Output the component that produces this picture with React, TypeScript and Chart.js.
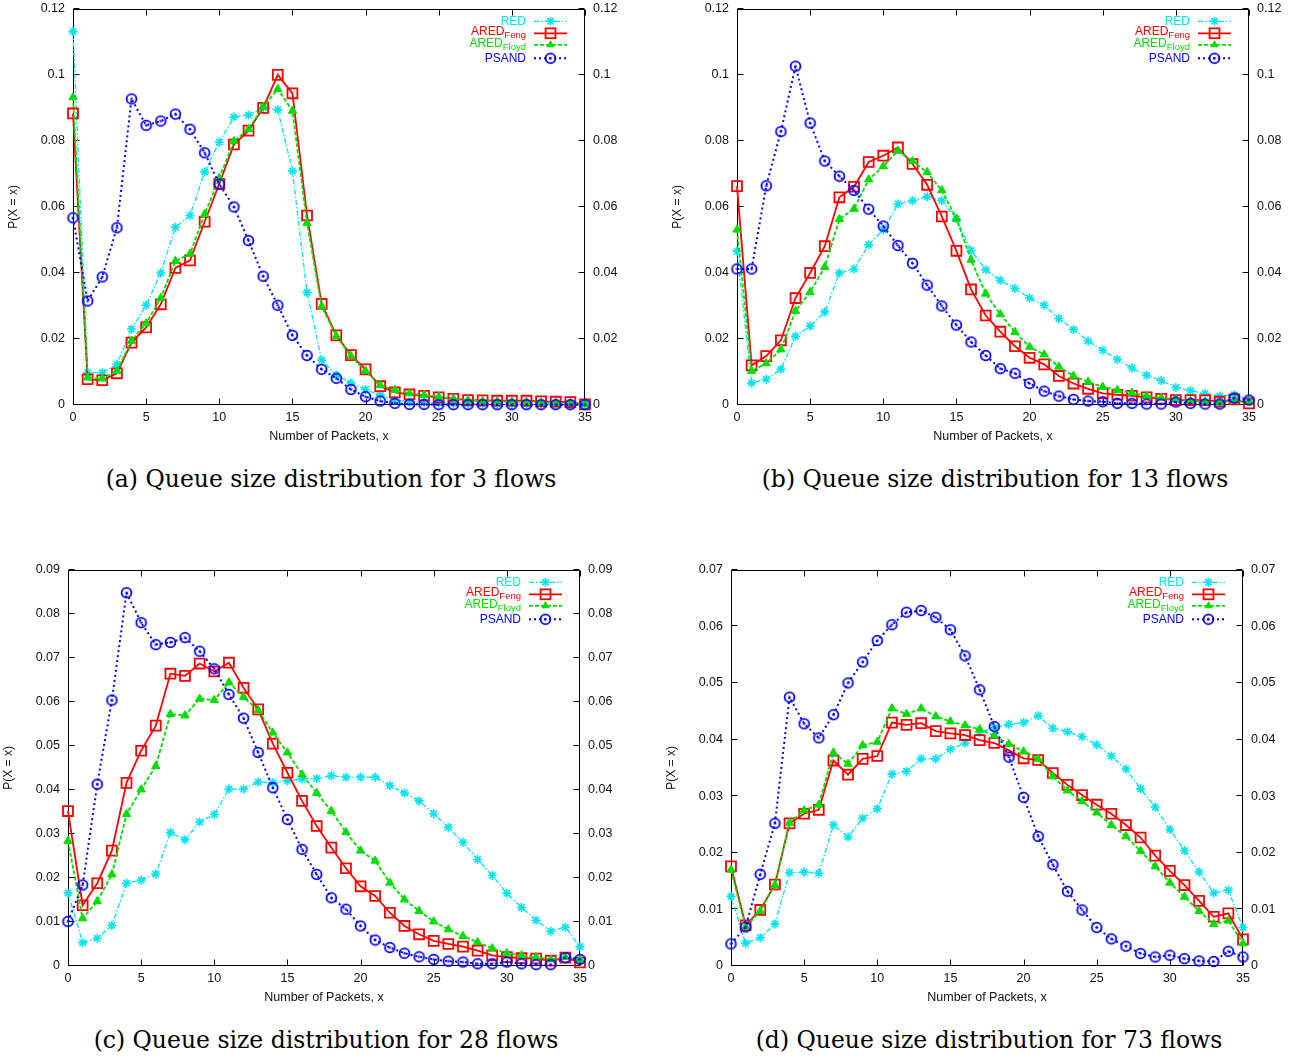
import React, { useEffect, useRef } from "react";
import { Chart, registerables } from "chart.js";

Chart.register(...registerables);

// ---------- data ----------
const packets = [0, 1, 2, 3, 4, 5, 6, 7, 8, 9, 10, 11, 12, 13, 14, 15, 16, 17, 18, 19, 20, 21, 22, 23, 24, 25, 26, 27, 28, 29, 30, 31, 32, 33, 34, 35];
const xTickValues = [0, 5, 10, 15, 20, 25, 30, 35];
const yTicks3 = [0, 0.02, 0.04, 0.06, 0.08, 0.1, 0.12];
const yTicks13 = [0, 0.02, 0.04, 0.06, 0.08, 0.1, 0.12];
const yTicks28 = [0, 0.01, 0.02, 0.03, 0.04, 0.05, 0.06, 0.07, 0.08, 0.09];
const yTicks73 = [0, 0.01, 0.02, 0.03, 0.04, 0.05, 0.06, 0.07];

const seriesLabels = ["RED", "ARED", "ARED", "PSAND"];
const seriesSubscripts = ["", "Feng", "Floyd", ""];
const xTitle = "Number of Packets, x";
const yTitle = "P(X = x)";
const captions = [
  "(a) Queue size distribution for 3 flows",
  "(b) Queue size distribution for 13 flows",
  "(c) Queue size distribution for 28 flows",
  "(d) Queue size distribution for 73 flows",
];

// 3 flows
const red3 = [0.1131, 0.0098, 0.0098, 0.0123, 0.023, 0.0302, 0.04, 0.0538, 0.0574, 0.0706, 0.0796, 0.0872, 0.0878, 0.0901, 0.0894, 0.0709, 0.0341, 0.0136, 0.0091, 0.0067, 0.0047, 0.003, 0.0015, 0.001, 0.0008, 0.0006, 0.0005, 0.0004, 0.0003, 0.0003, 0.0002, 0.0002, 0.0002, 0.0001, 0.0001, 0.0001];
const aredFeng3 = [0.0883, 0.0078, 0.0075, 0.0096, 0.0189, 0.0235, 0.0305, 0.0415, 0.0438, 0.0555, 0.067, 0.0789, 0.0831, 0.09, 0.1, 0.0944, 0.0574, 0.0306, 0.0211, 0.0151, 0.0108, 0.0057, 0.0038, 0.0032, 0.0028, 0.0023, 0.0019, 0.0015, 0.0014, 0.0013, 0.0013, 0.0013, 0.0011, 0.001, 0.0009, 0.0002];
const aredFloyd3 = [0.0932, 0.0083, 0.008, 0.0103, 0.0194, 0.0247, 0.0324, 0.0436, 0.0458, 0.0578, 0.0687, 0.0799, 0.0835, 0.0903, 0.0957, 0.0891, 0.0551, 0.0299, 0.0209, 0.0148, 0.0103, 0.006, 0.0045, 0.0035, 0.003, 0.0025, 0.0019, 0.0015, 0.0012, 0.0011, 0.001, 0.001, 0.0008, 0.0007, 0.0006, 0.0002];
const psand3 = [0.0567, 0.0315, 0.0388, 0.0537, 0.0927, 0.0847, 0.086, 0.0881, 0.0835, 0.0764, 0.0669, 0.06, 0.0498, 0.039, 0.0302, 0.0211, 0.015, 0.0108, 0.0081, 0.0047, 0.0025, 0.0012, 0.0005, 0.0002, 0.0002, 0.0001, 0.0001, 0.0001, 0.0001, 0.0001, 0.0001, 0.0001, 0.0001, 0.0001, 0.0001, 0.0001];

// 13 flows
const red13 = [0.0466, 0.0067, 0.0078, 0.0108, 0.0208, 0.0239, 0.0282, 0.04, 0.0412, 0.0485, 0.0531, 0.0609, 0.0619, 0.0631, 0.0619, 0.0564, 0.0468, 0.041, 0.0378, 0.0353, 0.0324, 0.0302, 0.0262, 0.0229, 0.0194, 0.0166, 0.0138, 0.0112, 0.009, 0.0074, 0.0053, 0.0043, 0.0035, 0.0027, 0.0031, 0.0017];
const aredFeng13 = [0.0663, 0.012, 0.0148, 0.0196, 0.0324, 0.04, 0.0481, 0.0629, 0.0661, 0.0736, 0.0755, 0.078, 0.073, 0.0667, 0.0571, 0.0467, 0.035, 0.0271, 0.0222, 0.0178, 0.0143, 0.0123, 0.0088, 0.0065, 0.0049, 0.0035, 0.0031, 0.0028, 0.0023, 0.0019, 0.0015, 0.0015, 0.0015, 0.001, 0.0017, 0.0005];
const aredFloyd13 = [0.0531, 0.0103, 0.0126, 0.0168, 0.0285, 0.0342, 0.0418, 0.0563, 0.0594, 0.0683, 0.0723, 0.077, 0.0738, 0.0705, 0.065, 0.0564, 0.044, 0.0337, 0.0275, 0.0221, 0.0176, 0.0153, 0.0116, 0.0088, 0.007, 0.0055, 0.0045, 0.0037, 0.0027, 0.0022, 0.0017, 0.0012, 0.001, 0.0007, 0.0015, 0.001];
const psand13 = [0.0412, 0.0412, 0.0664, 0.0828, 0.1026, 0.0854, 0.0739, 0.0693, 0.065, 0.0593, 0.0542, 0.0483, 0.0429, 0.0363, 0.03, 0.0242, 0.0191, 0.015, 0.011, 0.0096, 0.0065, 0.0042, 0.0027, 0.0017, 0.0012, 0.001, 0.0005, 0.0005, 0.0003, 0.0003, 0.0009, 0.0005, 0.0003, 0.0003, 0.0021, 0.0015];

// 28 flows
const red28 = [0.0166, 0.0053, 0.0063, 0.0092, 0.0188, 0.0195, 0.0209, 0.0303, 0.0287, 0.0327, 0.0344, 0.0402, 0.0402, 0.0418, 0.0416, 0.042, 0.0425, 0.0426, 0.0432, 0.0429, 0.0429, 0.0429, 0.041, 0.0393, 0.0375, 0.0346, 0.0315, 0.0281, 0.0242, 0.0206, 0.0165, 0.0133, 0.0104, 0.0079, 0.0088, 0.0044];
const aredFeng28 = [0.0352, 0.0138, 0.0188, 0.0262, 0.0416, 0.0489, 0.0546, 0.0664, 0.0659, 0.0687, 0.0669, 0.0689, 0.0632, 0.0583, 0.0505, 0.0439, 0.0375, 0.0318, 0.0269, 0.0222, 0.0181, 0.0159, 0.0121, 0.0091, 0.0072, 0.0057, 0.005, 0.0044, 0.0035, 0.0024, 0.002, 0.0018, 0.0017, 0.0012, 0.0019, 0.0008];
const aredFloyd28 = [0.0284, 0.0108, 0.0147, 0.0208, 0.0345, 0.0401, 0.0454, 0.0572, 0.0569, 0.0607, 0.0604, 0.0644, 0.0611, 0.0581, 0.053, 0.0485, 0.0435, 0.0393, 0.0352, 0.0304, 0.0262, 0.0239, 0.0189, 0.0151, 0.0125, 0.0101, 0.0083, 0.0068, 0.0054, 0.004, 0.0029, 0.0024, 0.002, 0.0015, 0.002, 0.0014];
const psand28 = [0.0101, 0.0184, 0.0413, 0.0604, 0.0848, 0.078, 0.073, 0.0735, 0.0746, 0.0715, 0.0675, 0.0617, 0.0563, 0.0485, 0.0405, 0.0333, 0.0265, 0.0208, 0.0155, 0.0129, 0.0091, 0.0059, 0.0042, 0.0029, 0.0021, 0.0015, 0.0011, 0.0009, 0.0005, 0.0005, 0.0009, 0.0005, 0.0003, 0.0003, 0.0019, 0.0015];

// 73 flows
const red73 = [0.0123, 0.004, 0.005, 0.0074, 0.0165, 0.0166, 0.0164, 0.0249, 0.0228, 0.0261, 0.0278, 0.0339, 0.0344, 0.0366, 0.0366, 0.0383, 0.0394, 0.0413, 0.0421, 0.0427, 0.043, 0.0442, 0.042, 0.0414, 0.0405, 0.0391, 0.0371, 0.0348, 0.0313, 0.0281, 0.0241, 0.0204, 0.0166, 0.0129, 0.0134, 0.0068];
const aredFeng73 = [0.0176, 0.0072, 0.0099, 0.0144, 0.0252, 0.0269, 0.0276, 0.0363, 0.0338, 0.0366, 0.0371, 0.043, 0.0426, 0.0429, 0.0415, 0.0411, 0.0408, 0.0399, 0.0394, 0.0381, 0.0367, 0.0364, 0.0341, 0.032, 0.0302, 0.0285, 0.0269, 0.0249, 0.0227, 0.0195, 0.0168, 0.0143, 0.0115, 0.0087, 0.0093, 0.0047];
const aredFloyd73 = [0.017, 0.0069, 0.0097, 0.0143, 0.0253, 0.0275, 0.0285, 0.0377, 0.0357, 0.039, 0.0396, 0.0455, 0.0445, 0.0455, 0.0441, 0.0432, 0.0425, 0.0418, 0.0407, 0.0392, 0.0379, 0.0366, 0.0335, 0.031, 0.0291, 0.0271, 0.0249, 0.0229, 0.0203, 0.0176, 0.0147, 0.0122, 0.0097, 0.0074, 0.008, 0.004];
const psand73 = [0.0039, 0.0069, 0.0162, 0.0252, 0.0475, 0.0428, 0.0403, 0.0444, 0.05, 0.0537, 0.0575, 0.0603, 0.0625, 0.0628, 0.0616, 0.0594, 0.0548, 0.0488, 0.0423, 0.0369, 0.0298, 0.0229, 0.0179, 0.0132, 0.0099, 0.0068, 0.0048, 0.0035, 0.0022, 0.0016, 0.0019, 0.0013, 0.0009, 0.0008, 0.0026, 0.0016];

// ---------- styles / layout ----------
const SANS = '"Liberation Sans", Arial, Helvetica, sans-serif';
const SERIF = '"DejaVu Serif", serif';
const TEXT = "#111";

type SeriesStyle = { color: string; dash: number[]; width: number; point: string; radius: number; pointWidth: number; fill: boolean };
const seriesStyles: SeriesStyle[] = [
  { color: "#00e4ef", dash: [5, 2, 1.5, 2], width: 1.3, point: "star", radius: 4.5, pointWidth: 1.6, fill: false },
  { color: "#ff0000", dash: [], width: 1.8, point: "rect", radius: 7, pointWidth: 1.8, fill: false },
  { color: "#00dd00", dash: [4, 2], width: 1.8, point: "triangle", radius: 4.8, pointWidth: 1, fill: true },
  { color: "#0000ff", dash: [2, 3], width: 2, point: "circledot", radius: 5, pointWidth: 1.8, fill: false },
];

const CANVAS_W = 654;
const CANVAS_H = 450;
const AXIS_LEFT_W = 73;
const AXIS_RIGHT_W = 69;
const AXIS_BOTTOM_H = 45;
const PAD_TOP = 7.5;

const panels = [
  { left: 0, top: 0, yTicks: yTicks3, series: [red3, aredFeng3, aredFloyd3, psand3], caption: captions[0] },
  { left: 664, top: 0, yTicks: yTicks13, series: [red13, aredFeng13, aredFloyd13, psand13], caption: captions[1] },
  { left: -5, top: 561, yTicks: yTicks28, series: [red28, aredFeng28, aredFloyd28, psand28], caption: captions[2] },
  { left: 658, top: 561, yTicks: yTicks73, series: [red73, aredFeng73, aredFloyd73, psand73], caption: captions[3] },
];

function makeCircleDot(color: string) {
  const c = document.createElement("canvas");
  c.width = 15;
  c.height = 15;
  const g = c.getContext("2d")!;
  g.strokeStyle = color;
  g.lineWidth = 1.8;
  g.beginPath();
  g.arc(7.5, 7.5, 4.9, 0, Math.PI * 2);
  g.stroke();
  g.fillStyle = color;
  g.beginPath();
  g.arc(7.5, 7.5, 1.2, 0, Math.PI * 2);
  g.fill();
  return c;
}

function drawMarker(ctx: CanvasRenderingContext2D, st: SeriesStyle, x: number, y: number, img: HTMLCanvasElement) {
  ctx.save();
  ctx.setLineDash([]);
  ctx.strokeStyle = st.color;
  ctx.fillStyle = st.color;
  ctx.lineWidth = st.pointWidth;
  const r = st.radius;
  if (st.point === "star") {
    ctx.beginPath();
    ctx.moveTo(x - r, y); ctx.lineTo(x + r, y);
    ctx.moveTo(x, y - r); ctx.lineTo(x, y + r);
    const d = r * Math.SQRT1_2;
    ctx.moveTo(x - d, y - d); ctx.lineTo(x + d, y + d);
    ctx.moveTo(x - d, y + d); ctx.lineTo(x + d, y - d);
    ctx.stroke();
  } else if (st.point === "rect") {
    const s = r * Math.SQRT1_2;
    ctx.strokeRect(x - s, y - s, 2 * s, 2 * s);
  } else if (st.point === "triangle") {
    ctx.beginPath();
    for (let k = 0; k < 3; k++) {
      const a = (k * 2 * Math.PI) / 3;
      const px = x + Math.sin(a) * r;
      const py = y - Math.cos(a) * r;
      if (k === 0) ctx.moveTo(px, py); else ctx.lineTo(px, py);
    }
    ctx.closePath();
    ctx.fill();
  } else {
    ctx.drawImage(img, x - img.width / 2, y - img.height / 2);
  }
  ctx.restore();
}

function Panel({ left, top, yTicks, series, caption }: any) {
  const ref = useRef<HTMLCanvasElement>(null);
  useEffect(() => {
    const canvas = ref.current!;
    const dotImg = makeCircleDot(seriesStyles[3].color);
    const fmt = (v: any) => String(parseFloat(Number(v).toFixed(4)));
    const yMax = yTicks[yTicks.length - 1];

    const framePlugin = {
      id: "frame",
      beforeDatasetsDraw(chart: any) {
        const { ctx, chartArea: a, scales } = chart;
        const L = Math.round(a.left) + 0.5;
        const R = Math.round(a.right) - 0.5;
        const T = Math.round(a.top) + 0.5;
        const B = Math.round(a.bottom) - 0.5;
        ctx.save();
        ctx.strokeStyle = "#000";
        ctx.lineWidth = 1;
        ctx.beginPath();
        ctx.rect(L, T, R - L, B - T);
        const tl = 6;
        xTickValues.forEach((v) => {
          const px = Math.round(scales.x.getPixelForValue(v)) + 0.5;
          ctx.moveTo(px, B); ctx.lineTo(px, B - tl);
          ctx.moveTo(px, T); ctx.lineTo(px, T + tl);
        });
        yTicks.forEach((v: number) => {
          const py = Math.round(scales.y.getPixelForValue(v)) - 0.5;
          ctx.moveTo(L, py); ctx.lineTo(L + tl, py);
          ctx.moveTo(R, py); ctx.lineTo(R - tl, py);
        });
        ctx.stroke();
        ctx.restore();
      },
    };

    const legendPlugin = {
      id: "seriesLegend",
      afterDatasetsDraw(chart: any) {
        const { ctx, chartArea: a } = chart;
        const rowOffsets = [12.5, 24.5, 36, 49.5];
        const textRight = a.right - 59;
        const x0 = a.right - 51;
        const x1 = a.right - 18;
        seriesLabels.forEach((label, i) => {
          const st = seriesStyles[i];
          const y = a.top + rowOffsets[i];
          ctx.save();
          ctx.fillStyle = st.color;
          ctx.textBaseline = "middle";
          ctx.textAlign = "right";
          const sub = seriesSubscripts[i];
          if (sub) {
            ctx.font = `9.5px ${SANS}`;
            const sw = ctx.measureText(sub).width;
            ctx.fillText(sub, textRight, y + 2.5);
            ctx.font = `12px ${SANS}`;
            ctx.fillText(label, textRight - sw, y - 1.5);
          } else {
            ctx.font = `12px ${SANS}`;
            ctx.fillText(label, textRight, y);
          }
          ctx.strokeStyle = st.color;
          ctx.lineWidth = st.width;
          ctx.setLineDash(st.dash);
          ctx.beginPath();
          ctx.moveTo(x0, y);
          ctx.lineTo(x1, y);
          ctx.stroke();
          ctx.restore();
          drawMarker(ctx, st, (x0 + x1) / 2, y, dotImg);
        });
      },
    };

    const yScale = (position: "left" | "right", width: number, withTitle: boolean) => ({
      type: "linear",
      position,
      min: 0,
      max: yMax,
      afterBuildTicks: (s: any) => {
        s.ticks = yTicks.map((v: number) => ({ value: v }));
      },
      afterFit: (s: any) => {
        s.width = width;
        s.paddingTop = 0;
        s.paddingBottom = 0;
      },
      ticks: { padding: 8, color: TEXT, font: { family: SANS, size: 12.5 }, callback: fmt, autoSkip: false },
      grid: { display: false, drawTicks: false },
      border: { display: false },
      title: withTitle
        ? { display: true, text: yTitle, color: TEXT, font: { family: SANS, size: 12 }, padding: { top: 6, bottom: 0 } }
        : { display: false },
    });

    const chart = new Chart(canvas, {
      type: "line",
      data: {
        datasets: series.map((vals: number[], i: number) => {
          const st = seriesStyles[i];
          return {
            label: seriesLabels[i] + seriesSubscripts[i],
            data: packets.map((x, j) => ({ x, y: vals[j] })),
            borderColor: st.color,
            borderWidth: st.width,
            borderDash: st.dash,
            pointStyle: st.point === "circledot" ? dotImg : st.point,
            pointRadius: st.radius,
            pointBorderColor: st.color,
            pointBackgroundColor: st.fill ? st.color : "rgba(0,0,0,0)",
            pointBorderWidth: st.pointWidth,
            fill: false,
            tension: 0,
            clip: false,
            order: 3 - i,
          };
        }),
      },
      options: {
        animation: false,
        responsive: false,
        devicePixelRatio: 1,
        layout: { padding: { top: PAD_TOP, left: 0, right: 0, bottom: 0 } },
        plugins: { legend: { display: false }, tooltip: { enabled: false } },
        scales: {
          x: {
            type: "linear",
            min: 0,
            max: 35,
            afterBuildTicks: (s: any) => {
              s.ticks = xTickValues.map((v) => ({ value: v }));
            },
            afterFit: (s: any) => {
              s.height = AXIS_BOTTOM_H;
              s.paddingLeft = 0;
              s.paddingRight = 0;
            },
            ticks: { padding: 5, color: TEXT, font: { family: SANS, size: 12.5 }, maxRotation: 0, autoSkip: false, callback: (v: any) => String(v) },
            grid: { display: false, drawTicks: false },
            border: { display: false },
            title: { display: true, text: xTitle, color: TEXT, font: { family: SANS, size: 12.5 }, padding: { top: 0, bottom: 5.5 } },
          },
          y: yScale("left", AXIS_LEFT_W, true),
          y2: yScale("right", AXIS_RIGHT_W, false),
        },
      } as any,
      plugins: [framePlugin, legendPlugin],
    } as any);
    return () => chart.destroy();
  }, []);

  const plotLeft = left + AXIS_LEFT_W;
  const plotW = CANVAS_W - AXIS_LEFT_W - AXIS_RIGHT_W;
  return (
    <>
      <div style={{ position: "absolute", left, top, width: CANVAS_W, height: CANVAS_H }}>
        <canvas ref={ref} width={CANVAS_W} height={CANVAS_H} style={{ display: "block" }} />
      </div>
      <div
        style={{
          position: "absolute",
          left: plotLeft - 100 + 2,
          top: top + 464,
          width: plotW + 200,
          textAlign: "center",
          fontFamily: SERIF,
          fontSize: 23.5,
          lineHeight: "30px",
          color: "#000",
          whiteSpace: "nowrap",
        }}
      >
        {caption}
      </div>
    </>
  );
}

export default function App() {
  return (
    <div style={{ position: "absolute", left: 0, top: 0, width: 1308, height: 1063, background: "#fff", overflow: "hidden" }}>
      {panels.map((p, i) => (
        <Panel key={i} {...p} />
      ))}
    </div>
  );
}
